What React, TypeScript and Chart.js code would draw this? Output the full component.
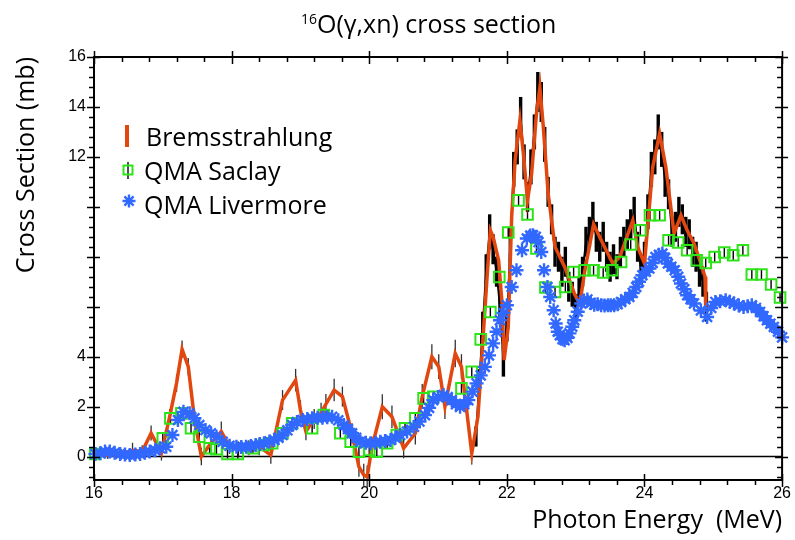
import React, { useEffect, useRef } from "react";
import { Chart, registerables } from "chart.js";

Chart.register(...registerables);

// ---------- axis definitions ----------
const X_MIN = 16;
const X_MAX = 26;
const Y_MIN = -0.94;
const Y_MAX = 16;
const xLabelTicks = [16, 18, 20, 22, 24, 26];
const yLabelTicks = [0, 2, 4, 12, 14, 16];
const xMajorTicks = [16, 18, 20, 22, 24, 26];
const yMajorTicks = [0, 2, 4, 6, 8, 10, 12, 14, 16];
const MINOR_STEP = 0.4;

// ---------- Bremsstrahlung (orange smoothed curve) ----------
const bremX = [16.0, 16.2, 16.4, 16.56, 16.7, 16.83, 16.98, 17.1, 17.2, 17.28, 17.37, 17.46, 17.56, 17.7, 17.85, 17.97, 18.1, 18.25, 18.4, 18.57,
  18.74, 18.93, 19.0, 19.08, 19.2, 19.3, 19.37, 19.49, 19.61, 19.75, 19.85, 19.92, 19.97, 20.04, 20.19, 20.33, 20.5, 20.67, 20.77, 20.91,
  21.01, 21.1, 21.25, 21.34, 21.49, 21.58, 21.66, 21.72, 21.76, 21.8, 21.88, 21.93, 21.96, 22.02, 22.07, 22.12, 22.19, 22.24, 22.3, 22.36,
  22.43, 22.48, 22.53, 22.6, 22.7, 22.84, 22.98, 23.06, 23.13, 23.26, 23.4, 23.54, 23.64, 23.83, 23.9, 24.0, 24.12, 24.22, 24.31, 24.43,
  24.53, 24.62, 24.72, 24.82, 24.88, 24.89];
const bremY = [0.05, 0.05, 0.1, 0.25, 0.2, 0.94, 0.14, 1.6, 2.94, 4.3, 3.6, 1.5, 0.0, 0.54, 1.0, 0.4, 0.3, 0.35, 0.4, 0.06,
  2.26, 3.06, 1.86, 1.0, 1.5, 1.75, 2.1, 2.66, 2.4, 0.93, -0.41, -0.74, -0.81, 0.39, 1.99, 1.59, 0.33, 0.93, 2.4, 4.0,
  3.6, 2.0, 4.13, 3.6, 0.13, 1.6, 5.0, 7.5, 9.06, 8.8, 7.86, 6.13, 3.86, 5.19, 9.6, 11.86, 13.46, 12.13, 10.26, 11.33,
  13.73, 14.79, 13.19, 10.53, 8.39, 7.59, 6.53, 6.1, 7.4, 9.3, 8.5, 7.73, 7.99, 9.46, 8.39, 7.73, 11.59, 12.93, 11.59, 8.93,
  9.66, 9.06, 8.53, 7.73, 7.2, 5.9];
const bremErr = [0.15, 0.15, 0.2, 0.3, 0.25, 0.3, 0.3, 0.3, 0.35, 0.35, 0.35, 0.3, 0.35, 0.35, 0.4, 0.3, 0.3, 0.3, 0.35, 0.35,
  0.4, 0.45, 0.4, 0.35, 0.4, 0.4, 0.4, 0.45, 0.4, 0.4, 0.4, 0.45, 0.45, 0.4, 0.5, 0.45, 0.4, 0.45, 0.5, 0.5,
  0.5, 0.5, 0.55, 0.5, 0.45, 0, 0, 0, 0, 0, 0, 0, 0, 0, 0, 0, 0, 0, 0, 0,
  0, 0, 0, 0, 0, 0, 0, 0, 0, 0, 0, 0, 0, 0, 0, 0, 0, 0, 0, 0,
  0, 0, 0, 0, 0, 0];

// ---------- Bremsstrahlung raw data (black, with error bars) ----------
const rawX = [21.55, 21.6, 21.65, 21.7, 21.75, 21.8, 21.85, 21.9, 21.95, 22.0,
  22.05, 22.1, 22.15, 22.2, 22.25, 22.3, 22.35, 22.4, 22.45, 22.5,
  22.55, 22.6, 22.65, 22.7, 22.75, 22.8, 22.85, 22.9, 22.95, 23.0,
  23.05, 23.1, 23.15, 23.2, 23.25, 23.3, 23.35, 23.4, 23.45, 23.5,
  23.55, 23.6, 23.65, 23.7, 23.75, 23.8, 23.85, 23.9, 23.95, 24.0,
  24.05, 24.1, 24.15, 24.2, 24.25, 24.3, 24.35, 24.4, 24.45, 24.5,
  24.55, 24.6, 24.65, 24.7, 24.75, 24.8, 24.85, 24.9];
const rawY = [0.8, 3.0, 5.2, 7.5, 9.0, 8.3, 7.4, 6.0, 3.8, 5.2,
  8.5, 11.5, 12.4, 13.6, 11.8, 10.4, 11.6, 13.0, 14.6, 14.2,
  12.5, 10.6, 9.5, 8.2, 8.0, 7.4, 7.8, 6.8, 6.5, 5.9,
  6.6, 7.4, 8.6, 9.0, 9.6, 8.8, 8.4, 8.8, 8.0, 7.6,
  7.9, 7.6, 8.2, 8.6, 8.9, 9.3, 9.8, 8.4, 7.5, 8.0,
  9.8, 11.5, 12.0, 13.0, 12.3, 11.0, 10.5, 9.0, 9.2, 9.8,
  9.5, 9.0, 8.9, 8.2, 8.0, 7.4, 7.0, 6.0];
const rawErr = [0.4, 0.5, 0.6, 0.6, 0.7, 0.6, 0.6, 0.7, 0.6, 0.6,
  0.7, 0.7, 0.7, 0.8, 0.7, 0.6, 0.7, 0.7, 0.8, 0.8,
  0.7, 0.6, 0.6, 0.6, 0.6, 0.6, 0.6, 0.6, 0.5, 0.6,
  0.6, 0.6, 0.6, 0.6, 0.6, 0.6, 0.6, 0.6, 0.6, 0.6,
  0.6, 0.5, 0.6, 0.6, 0.6, 0.6, 0.6, 0.6, 0.6, 0.6,
  0.7, 0.7, 0.7, 0.7, 0.7, 0.6, 0.6, 0.6, 0.6, 0.6,
  0.6, 0.6, 0.6, 0.6, 0.6, 0.6, 0.6, 0.6];

// ---------- QMA Saclay ----------
const saclayX = [16.02, 17.0, 17.11, 17.27, 17.41, 17.53, 17.68, 17.78, 17.94, 18.09, 18.31, 18.47, 18.59, 18.74, 18.88, 19.17, 19.34, 19.58, 19.73, 19.85,
  20.0, 20.11, 20.26, 20.4, 20.52, 20.67, 20.79, 20.93, 21.34, 21.49, 21.62, 21.76, 21.89, 22.02, 22.17, 22.3, 22.43, 22.56, 22.7, 22.85,
  22.97, 23.13, 23.26, 23.4, 23.53, 23.66, 23.8, 23.94, 24.08, 24.22, 24.35, 24.49, 24.62, 24.76, 24.89, 25.02, 25.16, 25.29, 25.43, 25.56,
  25.7, 25.84, 25.97];
const saclayY = [0.1, 0.73, 1.53, 1.73, 1.13, 0.79, 0.33, 0.29, 0.1, 0.1, 0.33, 0.46, 0.53, 0.93, 1.33, 1.13, 1.66, 0.93, 0.59, 0.19,
  0.26, 0.19, 0.53, 0.86, 1.13, 1.53, 2.33, 2.39, 2.73, 3.39, 4.69, 5.79, 7.19, 8.97, 10.26, 9.69, 8.33, 6.77, 6.59, 6.79,
  7.39, 7.46, 7.46, 7.37, 7.46, 7.79, 8.49, 9.06, 9.66, 9.66, 8.66, 8.57, 8.26, 7.86, 7.75, 7.99, 8.17, 8.06, 8.26, 7.29,
  7.29, 6.89, 6.37];
const SACLAY_ERR = 0.22;

// ---------- QMA Livermore ----------
const livX = [16.02, 16.09, 16.16, 16.23, 16.3, 16.38, 16.45, 16.52, 16.6, 16.67,
  16.74, 16.81, 16.89, 16.96, 17.05, 17.14, 17.22, 17.3, 17.39, 17.46,
  17.53, 17.62, 17.7, 17.78, 17.87, 17.97, 18.07, 18.14, 18.21, 18.28,
  18.35, 18.41, 18.47, 18.55, 18.62, 18.68, 18.74, 18.81, 18.88, 18.95,
  19.03, 19.1, 19.17, 19.25, 19.32, 19.39, 19.46, 19.55, 19.63, 19.69,
  19.75, 19.81, 19.87, 19.95, 20.02, 20.09, 20.16, 20.23, 20.31, 20.38,
  20.45, 20.55, 20.65, 20.73, 20.81, 20.87, 20.93, 21.0, 21.08, 21.14,
  21.2, 21.26, 21.32, 21.38, 21.44, 21.5, 21.56, 21.62, 21.68, 21.74,
  21.8, 21.85, 21.9, 21.95, 22.0, 22.07, 22.14, 22.22, 22.29, 22.34,
  22.38, 22.42, 22.46, 22.5, 22.54, 22.59, 22.63, 22.68, 22.71, 22.74,
  22.77, 22.81, 22.84, 22.88, 22.91, 22.95, 22.98, 23.03, 23.08, 23.12,
  23.17, 23.22, 23.27, 23.32, 23.37, 23.42, 23.47, 23.51, 23.56, 23.61,
  23.66, 23.72, 23.78, 23.83, 23.88, 23.92, 23.97, 24.02, 24.07, 24.12,
  24.16, 24.21, 24.26, 24.3, 24.34, 24.39, 24.44, 24.49, 24.53, 24.58,
  24.62, 24.67, 24.72, 24.82, 24.91, 24.97, 25.03, 25.1, 25.18, 25.24,
  25.3, 25.37, 25.44, 25.5, 25.56, 25.62, 25.68, 25.73, 25.78, 25.83,
  25.88, 25.94, 26.0];
const livY = [0.1, 0.13, 0.2, 0.2, 0.15, 0.1, 0.08, 0.06, 0.08, 0.1,
  0.15, 0.2, 0.25, 0.33, 0.39, 0.86, 1.46, 1.79, 1.73, 1.53,
  1.26, 1.06, 0.93, 0.79, 0.59, 0.43, 0.39, 0.38, 0.39, 0.42,
  0.46, 0.5, 0.53, 0.6, 0.66, 0.75, 0.86, 1.05, 1.26, 1.38,
  1.46, 1.5, 1.53, 1.55, 1.55, 1.57, 1.59, 1.45, 1.26, 1.1,
  0.93, 0.75, 0.59, 0.55, 0.53, 0.55, 0.59, 0.62, 0.66, 0.75,
  0.86, 1.0, 1.19, 1.4, 1.66, 1.95, 2.26, 2.38, 2.46, 2.38,
  2.26, 2.1, 1.99, 2.1, 2.26, 2.6, 2.93, 3.25, 3.59, 4.05,
  4.53, 5.0, 5.46, 5.75, 6.06, 6.79, 7.46, 8.26, 8.73, 8.85,
  8.86, 8.8, 8.59, 8.19, 7.46, 6.79, 6.39, 5.86, 5.33, 5.0,
  4.86, 4.7, 4.66, 4.75, 4.93, 5.2, 5.46, 5.8, 6.13, 6.25,
  6.29, 6.15, 6.08, 6.1, 6.06, 6.05, 6.06, 6.06, 6.06, 6.1,
  6.19, 6.3, 6.39, 6.55, 6.79, 7.0, 7.26, 7.4, 7.53, 7.75,
  7.99, 8.08, 8.13, 7.95, 7.73, 7.6, 7.46, 7.2, 6.93, 6.7,
  6.46, 6.3, 6.13, 5.85, 5.59, 5.95, 6.19, 6.22, 6.26, 6.2,
  6.13, 6.05, 5.99, 6.02, 6.06, 5.95, 5.79, 5.62, 5.46, 5.32,
  5.19, 5.0, 4.77];

// ---------- styling ----------
const ORANGE = "#e2470f";
const GREEN = "#2fe31a";
const BLUE = "#3168ff";
const TEXT_FONT = '"Open Sans", "DejaVu Sans", sans-serif';
const TICK_FONT = '"Liberation Sans", Arial, sans-serif';

const zip = (xs: number[], ys: number[]) =>
  xs.slice(0, Math.min(xs.length, ys.length)).map((x, i) => ({ x, y: ys[i] }));

function minorTicks(min: number, max: number, step: number) {
  const out: number[] = [];
  const start = Math.ceil(min / step - 1e-9);
  for (let k = start; k * step <= max + 1e-9; k++) out.push(+(k * step).toFixed(4));
  return out;
}

const drawingPlugin = {
  id: "drawing",
  beforeDatasetsDraw(chart: any) {
    const { ctx, chartArea: a, scales } = chart;
    const xs = scales.x;
    const ys = scales.y;
    ctx.save();
    // zero line
    ctx.strokeStyle = "#000";
    ctx.lineWidth = 1.5;
    const y0 = ys.getPixelForValue(0);
    ctx.beginPath();
    ctx.moveTo(a.left, y0);
    ctx.lineTo(a.right, y0);
    ctx.stroke();

    // thin error bars on the smoothed curve (low energies)
    ctx.strokeStyle = "#333";
    ctx.lineWidth = 1.3;
    bremX.forEach((x, i) => {
      const e = bremErr[i] || 0;
      if (!e) return;
      const px = xs.getPixelForValue(x);
      ctx.beginPath();
      ctx.moveTo(px, ys.getPixelForValue(bremY[i] - e));
      ctx.lineTo(px, ys.getPixelForValue(bremY[i] + e));
      ctx.stroke();
    });
    // raw data error bars
    ctx.strokeStyle = "#000";
    ctx.lineWidth = 3.4;
    rawX.forEach((x, i) => {
      const px = xs.getPixelForValue(x);
      ctx.beginPath();
      ctx.moveTo(px, ys.getPixelForValue(rawY[i] - rawErr[i]));
      ctx.lineTo(px, ys.getPixelForValue(rawY[i] + rawErr[i]));
      ctx.stroke();
    });
    // Saclay error bars
    ctx.strokeStyle = "#000";
    ctx.lineWidth = 1.4;
    saclayX.forEach((x, i) => {
      const px = xs.getPixelForValue(x);
      ctx.beginPath();
      ctx.moveTo(px, ys.getPixelForValue(saclayY[i] - SACLAY_ERR));
      ctx.lineTo(px, ys.getPixelForValue(saclayY[i] + SACLAY_ERR));
      ctx.stroke();
    });
    ctx.restore();
  },
  afterDraw(chart: any) {
    const { ctx, chartArea: a, scales } = chart;
    const xs = scales.x;
    const ys = scales.y;
    ctx.save();
    // frame
    ctx.strokeStyle = "#000";
    ctx.lineWidth = 2;
    ctx.strokeRect(a.left, a.top, a.right - a.left, a.bottom - a.top);
    ctx.lineWidth = 1.5;
    ctx.beginPath();
    // x ticks (top and bottom axes), pointing downward
    minorTicks(X_MIN, X_MAX, MINOR_STEP).forEach((v) => {
      const px = Math.round(xs.getPixelForValue(v)) + 0.5;
      for (const yb of [a.top, a.bottom]) {
        ctx.moveTo(px, yb);
        ctx.lineTo(px, yb + 5);
      }
    });
    xMajorTicks.forEach((v) => {
      const px = Math.round(xs.getPixelForValue(v)) + 0.5;
      for (const yb of [a.top, a.bottom]) {
        ctx.moveTo(px, yb - 6);
        ctx.lineTo(px, yb + 7);
      }
    });
    // y ticks (left and right axes), pointing left
    minorTicks(Y_MIN, Y_MAX, MINOR_STEP).forEach((v) => {
      const py = Math.round(ys.getPixelForValue(v)) + 0.5;
      for (const xb of [a.left, a.right]) {
        ctx.moveTo(xb - 5, py);
        ctx.lineTo(xb, py);
      }
    });
    yMajorTicks.forEach((v) => {
      const py = Math.round(ys.getPixelForValue(v)) + 0.5;
      for (const xb of [a.left, a.right]) {
        ctx.moveTo(xb - 7, py);
        ctx.lineTo(xb + 6, py);
      }
    });
    ctx.stroke();

    // title
    ctx.fillStyle = "#000";
    ctx.textBaseline = "alphabetic";
    ctx.textAlign = "left";
    ctx.font = `14px ${TEXT_FONT}`;
    ctx.fillText("16", 301, 24);
    ctx.font = `25px ${TEXT_FONT}`;
    ctx.fillText("O(γ,xn) cross section", 317, 33);

    // legend
    // Bremsstrahlung: orange bar
    ctx.fillStyle = ORANGE;
    ctx.fillRect(125, 125, 4, 22);
    // Saclay: green square with black error bar
    ctx.strokeStyle = "#000";
    ctx.lineWidth = 1.4;
    ctx.beginPath();
    ctx.moveTo(128, 162);
    ctx.lineTo(128, 179);
    ctx.stroke();
    ctx.strokeStyle = GREEN;
    ctx.lineWidth = 2;
    ctx.strokeRect(123.5, 165.5, 9, 9);
    // Livermore: blue asterisk
    ctx.strokeStyle = BLUE;
    ctx.lineWidth = 2.4;
    ctx.beginPath();
    for (let k = 0; k < 4; k++) {
      const ang = (k * Math.PI) / 4;
      const dx = Math.cos(ang) * 6.5;
      const dy = Math.sin(ang) * 6.5;
      ctx.moveTo(129 - dx, 201 - dy);
      ctx.lineTo(129 + dx, 201 + dy);
    }
    ctx.stroke();
    ctx.fillStyle = "#000";
    ctx.font = `25px ${TEXT_FONT}`;
    ctx.fillText("Bremsstrahlung", 146, 146);
    ctx.fillText("QMA Saclay", 144, 180);
    ctx.fillText("QMA Livermore", 144, 214);
    ctx.restore();
  },
};

export default function App() {
  const canvasRef = useRef<HTMLCanvasElement | null>(null);

  useEffect(() => {
    const canvas = canvasRef.current;
    if (!canvas) return;
    const chart = new Chart(canvas, {
      type: "line",
      data: {
        datasets: [
          {
            label: "QMA Livermore",
            data: zip(livX, livY),
            showLine: false,
            pointStyle: "star",
            pointRadius: 7,
            pointBorderColor: BLUE,
            pointBackgroundColor: BLUE,
            pointBorderWidth: 2.4,
            borderColor: BLUE,
            order: 0,
            clip: false,
          } as any,
          {
            label: "QMA Saclay",
            data: zip(saclayX, saclayY),
            showLine: false,
            pointStyle: "rect",
            pointRadius: 7.5,
            pointBorderColor: GREEN,
            pointBackgroundColor: "rgba(0,0,0,0)",
            pointBorderWidth: 2,
            borderColor: GREEN,
            order: 1,
            clip: false,
          } as any,
          {
            label: "Bremsstrahlung",
            data: zip(bremX, bremY),
            borderColor: ORANGE,
            borderWidth: 3.5,
            pointRadius: 0,
            tension: 0,
            order: 2,
          },
          {
            label: "Bremsstrahlung raw",
            data: zip(rawX, rawY),
            borderColor: "#000",
            borderWidth: 2,
            pointRadius: 0,
            tension: 0,
            order: 3,
          },
        ],
      },
      options: {
        responsive: false,
        animation: false,
        events: [],
        layout: { padding: { top: 57, right: 10, left: 0, bottom: 0 } },
        plugins: {
          legend: { display: false },
          tooltip: { enabled: false },
          title: { display: false },
        },
        scales: {
          x: {
            type: "linear",
            min: X_MIN,
            max: X_MAX,
            grid: { display: false, drawTicks: false },
            border: { display: false },
            afterBuildTicks: (s: any) => {
              s.ticks = xLabelTicks.map((v) => ({ value: v }));
            },
            afterFit: (s: any) => {
              s.height = 60;
            },
            ticks: {
              padding: 4,
              color: "#000",
              maxRotation: 0,
              autoSkip: false,
              font: { family: TICK_FONT, size: 16 },
              callback: (v: any) => String(v),
            },
            title: {
              display: true,
              text: "Photon Energy  (MeV)",
              align: "end",
              color: "#000",
              font: { family: TEXT_FONT, size: 25 },
              padding: { top: 0, bottom: 4 },
            },
          },
          y: {
            type: "linear",
            min: Y_MIN,
            max: Y_MAX,
            grid: { display: false, drawTicks: false },
            border: { display: false },
            afterBuildTicks: (s: any) => {
              s.ticks = yLabelTicks.map((v) => ({ value: v }));
            },
            afterFit: (s: any) => {
              s.width = 94;
            },
            ticks: {
              padding: 8,
              color: "#000",
              autoSkip: false,
              font: { family: TICK_FONT, size: 16 },
              callback: (v: any) => String(v),
            },
            title: {
              display: true,
              text: "Cross Section (mb)",
              align: "end",
              color: "#000",
              font: { family: TEXT_FONT, size: 25 },
              padding: { top: 12, bottom: 0 },
            },
          },
        },
      },
      plugins: [drawingPlugin],
    } as any);

    let alive = true;
    if ((document as any).fonts && (document as any).fonts.ready) {
      (document as any).fonts.ready.then(() => {
        if (alive) chart.update();
      });
    }
    return () => {
      alive = false;
      chart.destroy();
    };
  }, []);

  return (
    <div style={{ position: "fixed", left: 0, top: 0, width: 795, height: 540, background: "#fff" }}>
      <canvas ref={canvasRef} width={795} height={540} style={{ display: "block" }} />
    </div>
  );
}
